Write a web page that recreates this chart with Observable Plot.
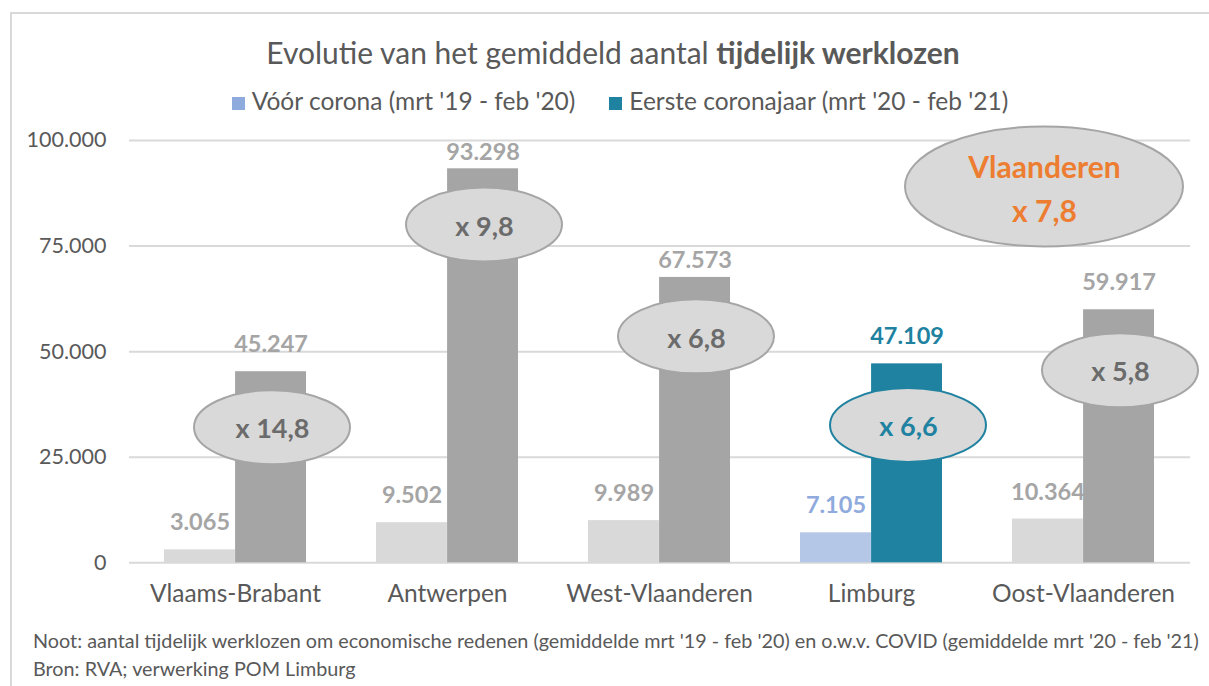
<!DOCTYPE html>
<html><head><meta charset="utf-8">
<script src="https://cdn.jsdelivr.net/npm/d3@7"></script>
<script src="https://cdn.jsdelivr.net/npm/@observablehq/plot@0.6"></script>
<style>
html,body{margin:0;padding:0;overflow:hidden;background:#fff;width:1209px;height:686px;}
body{font-family:Lato,"Open Sans",sans-serif;color:#595959;position:relative;}
#frame{position:absolute;left:10px;top:12px;width:1230px;height:720px;border:2px solid #d9d9d9;box-sizing:border-box;}
#title{position:absolute;left:10px;width:1206px;top:35px;text-align:center;font-size:30px;line-height:34px;color:#595959;white-space:nowrap;}
#legend{position:absolute;left:10px;width:1220px;top:86px;text-align:center;font-size:24.5px;line-height:30px;color:#595959;white-space:nowrap;}
#legend span.sw{display:inline-block;width:13px;height:13px;margin-right:7px;vertical-align:0px;}
#legend span.item{margin:0 17px;}
#chart{position:absolute;left:0;top:120px;}
#notes{position:absolute;left:33px;top:626px;font-size:19.8px;line-height:28px;color:#595959;white-space:nowrap;}
</style></head>
<body>
<div id="frame"></div>
<div id="title"></div>
<div id="legend"></div>
<div id="chart"></div>
<div id="notes"></div>
<script>
// ---- data ----
const regions = ["Vlaams-Brabant", "Antwerpen", "West-Vlaanderen", "Limburg", "Oost-Vlaanderen"];
const voorCorona = [3065, 9502, 9989, 7105, 10364];
const coronajaar = [45247, 93298, 67573, 47109, 59917];
const factorLabels = ["x 14,8", "x 9,8", "x 6,8", "x 6,6", "x 5,8"];
const factorAnchorY = [32000, 80000, 53500, 32500, 45500];
const totalRegion = "Vlaanderen";
const totalFactor = "x 7,8";
const totalAnchorY = 89000;
const highlight = "Limburg";
const tuckedLabels = ["Antwerpen", "West-Vlaanderen"]; // value labels set closer to their bar
const yTicks = [0, 25000, 50000, 75000, 100000];
const seriesNames = ["Vóór corona (mrt '19 - feb '20)", "Eerste coronajaar (mrt '20 - feb '21)"];
const titleText = ["Evolutie van het gemiddeld aantal ", "tijdelijk werklozen"];
const noteLines = [
  "Noot: aantal tijdelijk werklozen om economische redenen (gemiddelde mrt '19 - feb '20) en o.w.v. COVID (gemiddelde mrt '20 - feb '21)",
  "Bron: RVA; verwerking POM Limburg"
];

// ---- styles ----
const C = {
  grayLight: "#d9d9d9", grayDark: "#a5a5a5",
  blueLight: "#b4c7e7", teal: "#1f82a0",
  blueLabel: "#8faadc", grayLabel: "#a5a5a5",
  ellipseText: "#6b6b6b", orange: "#ed7d31", grid: "#d9d9d9"
};

const rows = regions.map((r, i) => ({
  region: r, voor: voorCorona[i], corona: coronajaar[i],
  factor: factorLabels[i], factorY: factorAnchorY[i]
}));
const fmt = n => d3.format(",")(n).replace(/,/g, ".");

document.getElementById("title").innerHTML =
  titleText[0] + "<b>" + titleText[1] + "</b>";
document.getElementById("legend").innerHTML =
  `<span class="item"><span class="sw" style="background:${C.blueLabel}"></span>${seriesNames[0]}</span>` +
  `<span class="item"><span class="sw" style="background:${C.teal}"></span>${seriesNames[1]}</span>`;
document.getElementById("notes").innerHTML = noteLines.map(l => `<div>${l}</div>`).join("");

const W = 1209, H = 500, mL = 129, mR = 19, mT = 20, mB = 57.7;
const pIn = 0.33, pOut = 0.165;
const step = (W - mL - mR) / (regions.length - pIn + 2 * pOut);
const bw = step * (1 - pIn);
const half = bw / 2;
const ellDx = 37;

function ellipseMark(items) {
  return (index, scales) => {
    const g = d3.create("svg:g");
    for (const it of items) {
      const cx = scales.x(it.region) + scales.x.bandwidth() / 2 + it.dx;
      const cy = scales.y(it.y);
      g.append("ellipse")
        .attr("cx", cx).attr("cy", cy).attr("rx", it.rx).attr("ry", it.ry)
        .attr("fill", C.grayLight).attr("stroke", it.stroke).attr("stroke-width", 2);
    }
    return g.node();
  };
}

const ellItems = rows.map(d => ({
  region: d.region, y: d.factorY, dx: ellDx, rx: 78, ry: 37,
  stroke: d.region === highlight ? C.teal : C.grayDark
}));
ellItems.push({region: regions[4], y: totalAnchorY, dx: -39, rx: 139, ry: 60, stroke: C.grayDark});

const coronaText = (filter, dy) => Plot.text(rows.filter(filter), {
  x: "region", y: "corona", dx: half / 2, dy, text: d => fmt(d.corona),
  fill: d => d.region === highlight ? C.teal : C.grayLabel, fontSize: 23.5, fontWeight: "bold"
});

const plot = Plot.plot({
  width: W, height: H,
  marginLeft: mL, marginRight: mR, marginTop: mT, marginBottom: mB,
  style: {fontFamily: "Lato, 'Open Sans', sans-serif", background: "transparent", overflow: "visible"},
  x: {type: "band", domain: regions, paddingInner: pIn, paddingOuter: pOut, label: null},
  y: {domain: [0, 100000], label: null},
  marks: [
    Plot.ruleY(yTicks, {stroke: C.grid, strokeWidth: 2}),
    Plot.axisY({ticks: yTicks, tickFormat: fmt, tickSize: 0, tickPadding: 23, fontSize: 21.5, color: "#595959", label: null}),
    Plot.axisX({tickSize: 0, tickPadding: 22, fontSize: 24.5, color: "#595959", label: null}),
    Plot.barY(rows, {x: "region", y: "voor", insetRight: half,
      fill: d => d.region === highlight ? C.blueLight : C.grayLight}),
    Plot.barY(rows, {x: "region", y: "corona", insetLeft: half,
      fill: d => d.region === highlight ? C.teal : C.grayDark}),
    Plot.text(rows, {x: "region", y: "voor", dx: -half / 2, dy: -27, text: d => fmt(d.voor),
      fill: d => d.region === highlight ? C.blueLabel : C.grayLabel, fontSize: 23.5, fontWeight: "bold"}),
    coronaText(d => !tuckedLabels.includes(d.region), -27),
    coronaText(d => tuckedLabels.includes(d.region), -16.5),
    ellipseMark(ellItems),
    Plot.text(rows, {x: "region", y: "factorY", dx: ellDx, dy: 2, text: "factor",
      fill: d => d.region === highlight ? C.teal : C.ellipseText, fontSize: 27, fontWeight: "bold"}),
    Plot.text([totalAnchorY], {x: () => regions[4], y: d => d, dx: -39, dy: -1,
      text: () => totalRegion + "\n" + totalFactor, lineHeight: 1.45,
      fill: C.orange, fontSize: 30, fontWeight: "bold"})
  ]
});
document.getElementById("chart").appendChild(plot);
</script>
</body></html>
